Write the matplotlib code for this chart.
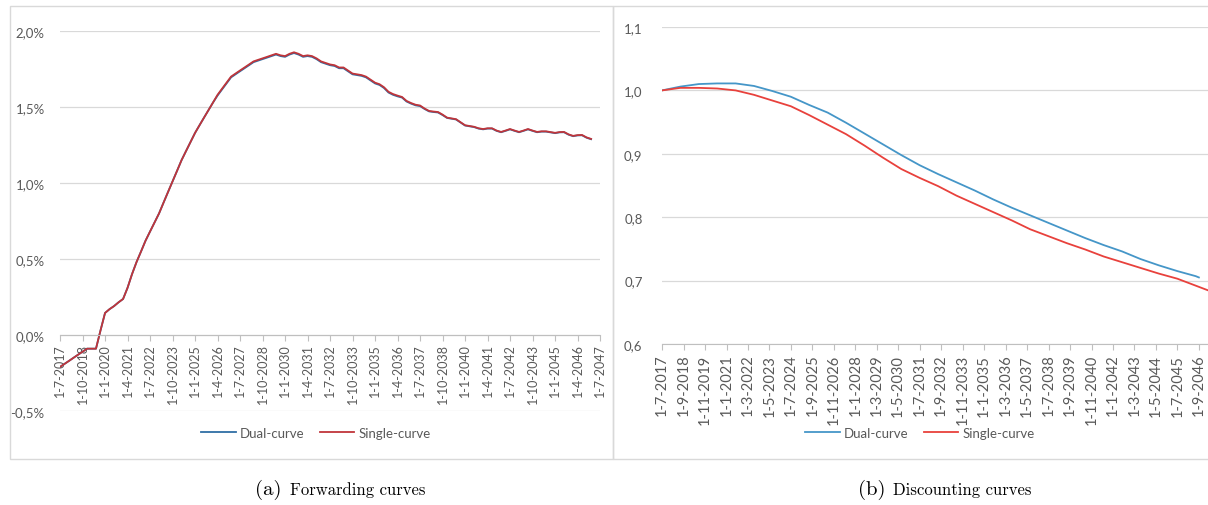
import matplotlib
matplotlib.use("Agg")
import matplotlib.pyplot as plt
from matplotlib.patches import Rectangle
import pandas as pd

# ============================================================
# DATA
# ============================================================

# forward rates (%), quarterly from 1-7-2017
fwd_single = [
    -0.21, -0.19, -0.17, -0.15, -0.13, -0.11, -0.09, -0.09, -0.09, 0.03,
    0.145, 0.17, 0.19, 0.215, 0.237, 0.31, 0.40, 0.48, 0.55, 0.62,
    0.68, 0.74, 0.80, 0.87, 0.94, 1.01, 1.08, 1.15, 1.21, 1.27,
    1.33, 1.38, 1.43, 1.48, 1.53, 1.58, 1.62, 1.66, 1.70, 1.72,
    1.74, 1.76, 1.78, 1.80, 1.81, 1.82, 1.83, 1.84, 1.85, 1.84,
    1.835, 1.85, 1.86, 1.85, 1.835, 1.84, 1.835, 1.82, 1.80, 1.79,
    1.78, 1.775, 1.76, 1.76, 1.74, 1.72, 1.715, 1.71, 1.70, 1.68,
    1.66, 1.65, 1.63, 1.60, 1.585, 1.575, 1.566, 1.54, 1.526, 1.515,
    1.51, 1.49, 1.474, 1.47, 1.467, 1.45, 1.43, 1.425, 1.42, 1.40,
    1.38, 1.375, 1.37, 1.36, 1.355, 1.36, 1.36, 1.345, 1.336, 1.345,
    1.355, 1.345, 1.336, 1.345, 1.355, 1.345, 1.336, 1.34, 1.34, 1.335,
    1.33, 1.335, 1.336, 1.32, 1.31, 1.315, 1.316, 1.30, 1.29,
]
fwd_dual = [
    -0.21, -0.19, -0.17, -0.15, -0.13, -0.11, -0.09, -0.09, -0.09, 0.03,
    0.145, 0.17, 0.19, 0.215, 0.237, 0.31, 0.40, 0.48, 0.55, 0.62,
    0.68, 0.74, 0.80, 0.87, 0.94, 1.01, 1.08, 1.15, 1.21, 1.27,
    1.33, 1.38, 1.43, 1.48, 1.53, 1.575, 1.615, 1.655, 1.695, 1.715,
    1.735, 1.755, 1.775, 1.795, 1.805, 1.815, 1.825, 1.835, 1.845, 1.835,
    1.83, 1.845, 1.855, 1.845, 1.83, 1.835, 1.83, 1.815, 1.795, 1.785,
    1.775, 1.77, 1.755, 1.755, 1.735, 1.715, 1.71, 1.705, 1.695, 1.675,
    1.655, 1.645, 1.625, 1.595, 1.58, 1.57, 1.562, 1.536, 1.522, 1.511,
    1.506, 1.487, 1.471, 1.467, 1.464, 1.447, 1.428, 1.423, 1.418, 1.398,
    1.378, 1.373, 1.368, 1.358, 1.353, 1.358, 1.358, 1.343, 1.334, 1.343,
    1.353, 1.343, 1.334, 1.343, 1.353, 1.343, 1.334, 1.338, 1.338, 1.333,
    1.328, 1.333, 1.334, 1.318, 1.308, 1.313, 1.314, 1.298, 1.288,
]

# discount factors, yearly from 1-7-2017
disc_dual = [
    1.000, 1.006, 1.010, 1.011, 1.011, 1.007, 0.999, 0.990, 0.977, 0.965,
    0.949, 0.932, 0.915, 0.898, 0.882, 0.868, 0.855, 0.842, 0.828, 0.815,
    0.803, 0.791, 0.779, 0.767, 0.756, 0.746, 0.734, 0.724, 0.715, 0.707,
]
disc_dual_last = ("2046-09-01", 0.705)
disc_single = [
    1.000, 1.004, 1.004, 1.003, 1.000, 0.993, 0.984, 0.975, 0.961, 0.946,
    0.931, 0.913, 0.894, 0.876, 0.862, 0.849, 0.834, 0.821, 0.808, 0.795,
    0.781, 0.770, 0.759, 0.749, 0.738, 0.729, 0.720, 0.711, 0.703, 0.692,
    0.681,
]

fwd_yticks = [-0.5, 0.0, 0.5, 1.0, 1.5, 2.0]
fwd_ylabels = ["-0,5%", "0,0%", "0,5%", "1,0%", "1,5%", "2,0%"]
disc_yticks = [0.6, 0.7, 0.8, 0.9, 1.0, 1.1]
disc_ylabels = ["0,6", "0,7", "0,8", "0,9", "1,0", "1,1"]

series_names = ["Dual-curve", "Single-curve"]

# ============================================================
# PLOT
# ============================================================

W, H = 1208, 506
plt.rcParams["font.family"] = ["Lato", "DejaVu Sans"]
TXT = "#595959"
GRID = "#d9d9d9"


def box(l, t, r, b):
    return [l / W, 1 - b / H, (r - l) / W, (b - t) / H]


def fmt(d):
    return f"{d.day}-{d.month}-{d.year}"


fig = plt.figure(figsize=(W / 100, H / 100), dpi=100)
fig.add_artist(Rectangle((10 / W, 1 - 460 / H), 603 / W, 453 / H,
                         transform=fig.transFigure, fill=False, ec=GRID, lw=1))
fig.add_artist(Rectangle((613 / W, 1 - 460 / H), 700 / W, 453 / H,
                         transform=fig.transFigure, fill=False, ec=GRID, lw=1))

# --- forwarding curves ---
fwd_dates = pd.date_range("2017-07-01", periods=len(fwd_single), freq="QS")
axL = fig.add_axes(box(60, 32, 600, 412))
# move the category axis up to 0% first (this resets tick settings)
axL.spines["bottom"].set_position(("data", 0))
axL.plot(fwd_dates, fwd_dual, color="#2f6ea5", lw=1.3, label=series_names[0])
axL.plot(fwd_dates, fwd_single, color="#c0353a", lw=1.3, label=series_names[1])
axL.set_xlim(pd.Timestamp("2017-07-01"), pd.Timestamp("2047-07-01"))
axL.set_ylim(-0.5, 2.0)
axL.set_yticks(fwd_yticks, fwd_ylabels)
lt = pd.date_range("2017-07-01", "2047-07-01", freq="15MS")
axL.set_xticks(lt, [fmt(d) for d in lt])
axL.tick_params(axis="x", length=4, color="#bfbfbf", pad=2, labelsize=9,
                labelcolor=TXT, labelrotation=90)
axL.tick_params(axis="y", length=0, pad=11, labelsize=9.5, labelcolor=TXT)
axL.legend(loc="center", bbox_to_anchor=(316 / W, 1 - 434 / H),
           bbox_transform=fig.transFigure, ncol=2, frameon=False,
           fontsize=9.5, handlelength=2.6, handletextpad=0.3,
           columnspacing=1.2, labelcolor=TXT)

# --- discounting curves ---
years = pd.date_range("2017-07-01", periods=len(disc_single), freq="12MS")
dual_dates = list(years[:len(disc_dual)]) + [pd.Timestamp(disc_dual_last[0])]
axR = fig.add_axes(box(662, 28, 1208, 345))
axR.plot(dual_dates, disc_dual + [disc_dual_last[1]], color="#4596c8", lw=1.3,
         label=series_names[0])
axR.plot(years, disc_single, color="#e8413c", lw=1.3, label=series_names[1])
axR.set_xlim(pd.Timestamp("2017-07-01"), pd.Timestamp("2047-03-01"))
axR.set_ylim(0.6, 1.1)
axR.set_yticks(disc_yticks, disc_ylabels)
rt = pd.date_range("2017-07-01", "2046-09-01", freq="14MS")
axR.set_xticks(rt, [fmt(d) for d in rt])
axR.tick_params(axis="x", length=4, color="#bfbfbf", pad=3, labelsize=10.5,
                labelcolor=TXT, labelrotation=90)
axR.tick_params(axis="y", length=0, pad=14, labelsize=9.5, labelcolor=TXT)
axR.legend(loc="center", bbox_to_anchor=(920 / W, 1 - 434 / H),
           bbox_transform=fig.transFigure, ncol=2, frameon=False,
           fontsize=9.5, handlelength=2.6, handletextpad=0.3,
           columnspacing=1.2, labelcolor=TXT)

for ax in (axL, axR):
    ax.grid(axis="y", color=GRID, lw=0.9)
    ax.set_axisbelow(True)
    for s in ("top", "right", "left"):
        ax.spines[s].set_visible(False)
    ax.spines["bottom"].set_color("#bfbfbf")
    for lab in ax.get_xticklabels():
        lab.set_verticalalignment("top")
        lab.set_horizontalalignment("center")

# captions
for x0, tag, cap in [(255, "(a)", "Forwarding curves"),
                     (858, "(b)", "Discounting curves")]:
    fig.text(x0 / W, 1 - 495 / H, tag, family="cmr10", fontsize=15,
             va="baseline", ha="left")
    fig.text((x0 + 35) / W, 1 - 495 / H, cap, family="cmr10", fontsize=12,
             va="baseline", ha="left")

fig.savefig("out.png", dpi=100, facecolor="white")
